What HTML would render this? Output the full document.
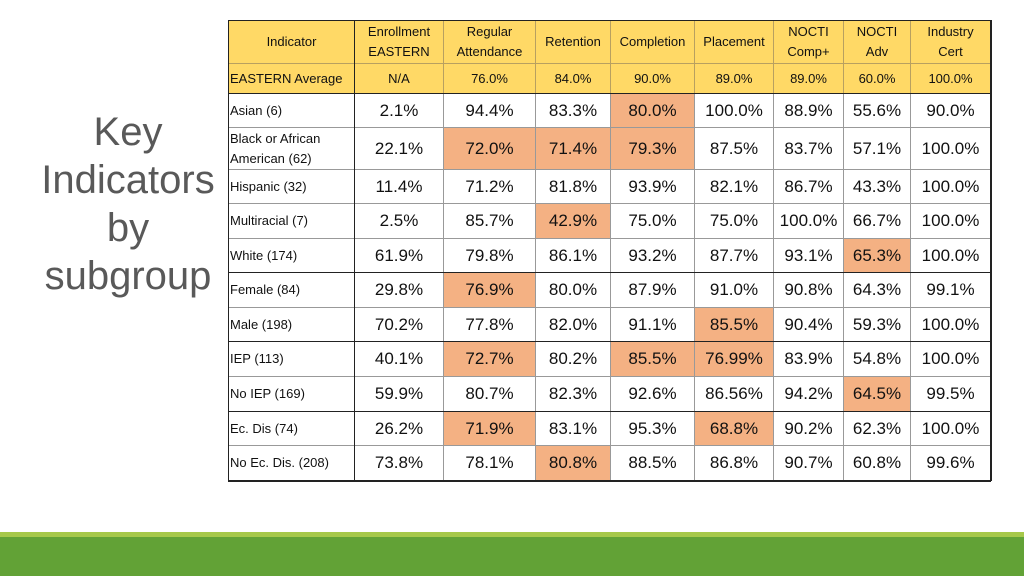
<!DOCTYPE html>
<html><head><meta charset="utf-8">
<style>
html,body{margin:0;padding:0;}
body{width:1024px;height:576px;position:relative;overflow:hidden;background:#fff;font-family:"Liberation Sans",sans-serif;}
#title{position:absolute;left:10px;top:108px;width:236px;text-align:center;font-size:40px;line-height:48px;color:#595959;}
.c{position:absolute;box-sizing:border-box;display:flex;align-items:center;justify-content:center;text-align:center;color:#111;border-right:1px solid #999;border-bottom:1px solid #999;}
.h{background:#ffd966;font-size:13px;line-height:20px;border-color:#b8a060;}
.lab{justify-content:flex-start;text-align:left;font-size:13px;line-height:20px;padding-left:1px;}
.v{font-size:17px;}
.hl{background:#f4b183;}
#bar1{position:absolute;left:0;top:532px;width:1024px;height:5px;background:#a6c84a;}
#bar2{position:absolute;left:0;top:537px;width:1024px;height:39px;background:#62a236;}
</style></head>
<body>
<div id="title">Key<br>Indicators<br>by<br>subgroup</div>
<div id="tbl"></div>
<div id="bar1"></div>
<div id="bar2"></div>
<script>
const headers=["Indicator","Enrollment<br>EASTERN","Regular<br>Attendance","Retention","Completion","Placement","NOCTI<br>Comp+","NOCTI<br>Adv","Industry<br>Cert"];
const averages=["EASTERN Average","N/A","76.0%","84.0%","90.0%","89.0%","89.0%","60.0%","100.0%"];
const groups=["Asian (6)","Black or African<br>American (62)","Hispanic (32)","Multiracial (7)","White (174)","Female (84)","Male (198)","IEP (113)","No IEP (169)","Ec. Dis (74)","No Ec. Dis. (208)"];
const values=[
["2.1%","94.4%","83.3%","80.0%","100.0%","88.9%","55.6%","90.0%"],
["22.1%","72.0%","71.4%","79.3%","87.5%","83.7%","57.1%","100.0%"],
["11.4%","71.2%","81.8%","93.9%","82.1%","86.7%","43.3%","100.0%"],
["2.5%","85.7%","42.9%","75.0%","75.0%","100.0%","66.7%","100.0%"],
["61.9%","79.8%","86.1%","93.2%","87.7%","93.1%","65.3%","100.0%"],
["29.8%","76.9%","80.0%","87.9%","91.0%","90.8%","64.3%","99.1%"],
["70.2%","77.8%","82.0%","91.1%","85.5%","90.4%","59.3%","100.0%"],
["40.1%","72.7%","80.2%","85.5%","76.99%","83.9%","54.8%","100.0%"],
["59.9%","80.7%","82.3%","92.6%","86.56%","94.2%","64.5%","99.5%"],
["26.2%","71.9%","83.1%","95.3%","68.8%","90.2%","62.3%","100.0%"],
["73.8%","78.1%","80.8%","88.5%","86.8%","90.7%","60.8%","99.6%"]];
const highlights=[[3],[1,2,3],[],[2],[6],[1],[4],[1,3,4],[6],[1,4],[2]];
const colX=[228,354,443,535,610,694,773,843,910,990];
const rowY=[20,63,93,127,169,203,238,272,307,341,376,411,445,480];
const tbl=document.getElementById('tbl');
function cell(r,c,html,cls){
  const d=document.createElement('div');
  d.className='c '+cls;
  d.style.left=(colX[c]+1)+'px';d.style.top=(rowY[r]+1)+'px';
  d.style.width=(colX[c+1]-colX[c])+'px';d.style.height=(rowY[r+1]-rowY[r])+'px';
  d.innerHTML=html;
  
  
  tbl.appendChild(d);return d;
}
headers.forEach((h,c)=>cell(0,c,h,'h'));
averages.forEach((h,c)=>cell(1,c,h,'h'+(c==0?' lab':'')));
groups.forEach((g,i)=>{
  cell(i+2,0,g,'lab');
  values[i].forEach((v,j)=>cell(i+2,j+1,v,'v'+(highlights[i].includes(j)?' hl':'')));
});
function line(x,y,w,h,col,name){const d=document.createElement('div');d.style.cssText='position:absolute;left:'+x+'px;top:'+y+'px;width:'+w+'px;height:'+h+'px;background:'+col;


tbl.appendChild(d);}
line(colX[0],rowY[0],colX[9]-colX[0]+1,1,'#222','table-top-border');
line(colX[0],rowY[13],colX[9]-colX[0]+1,2,'#222','table-bottom-border');
line(colX[0],rowY[0],1,rowY[13]-rowY[0]+1,'#222','table-left-border');
line(colX[9],rowY[0],2,rowY[13]-rowY[0]+1,'#222','table-right-border');
line(colX[1],rowY[0],1,rowY[13]-rowY[0],'#222','label-column-border');
[2,7,9,11].forEach(r=>line(colX[0],rowY[r],colX[9]-colX[0],1,'#222','group-separator'));
</script>
</body></html>
